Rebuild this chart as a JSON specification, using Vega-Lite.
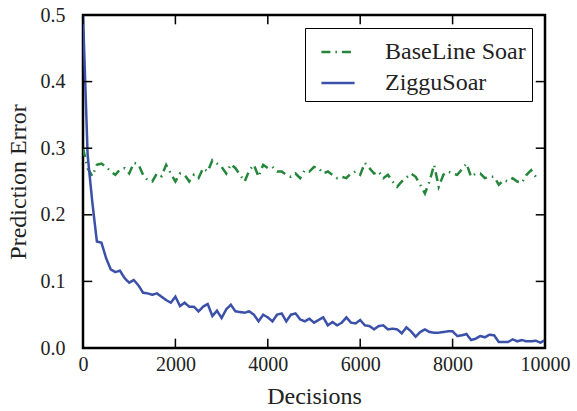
{
  "$schema": "https://vega.github.io/schema/vega-lite/v6.json",
  "autosize": "none",
  "width": 462,
  "height": 333,
  "padding": {"left": 83, "top": 15, "right": 32, "bottom": 63},
  "background": "white",
  "config": {
    "font": "Liberation Serif",
    "view": {"stroke": "black", "strokeWidth": 2.5},
    "axis": {"grid": false, "domain": false, "labelFlush": false, "titleFontWeight": "normal"},
    "legend": {"strokeColor": "black", "fillColor": "white", "padding": 6, "symbolType": "stroke", "symbolSize": 1100, "symbolStrokeWidth": 2.5, "symbolOffset": 9, "labelOffset": 29, "rowPadding": 1, "labelLimit": 300}
  },
  "datasets": {
    "xticks": [{"v":0},{"v":2000},{"v":4000},{"v":6000},{"v":8000},{"v":10000}],
    "yticks": [{"v":0},{"v":0.1},{"v":0.2},{"v":0.3},{"v":0.4},{"v":0.5}],
    "blue": [
      {"x":0,"y":0.50},{"x":100,"y":0.29},{"x":200,"y":0.22},{"x":300,"y":0.16},{"x":400,"y":0.158},{"x":500,"y":0.135},{"x":600,"y":0.118},{"x":700,"y":0.114},{"x":800,"y":0.116},{"x":900,"y":0.105},
      {"x":1000,"y":0.098},{"x":1100,"y":0.102},{"x":1200,"y":0.094},{"x":1300,"y":0.083},{"x":1400,"y":0.082},{"x":1500,"y":0.08},{"x":1600,"y":0.082},{"x":1700,"y":0.077},{"x":1800,"y":0.072},{"x":1900,"y":0.068},
      {"x":2000,"y":0.077},{"x":2100,"y":0.063},{"x":2200,"y":0.068},{"x":2300,"y":0.062},{"x":2400,"y":0.062},{"x":2500,"y":0.055},{"x":2600,"y":0.062},{"x":2700,"y":0.066},{"x":2800,"y":0.048},{"x":2900,"y":0.056},
      {"x":3000,"y":0.045},{"x":3100,"y":0.058},{"x":3200,"y":0.065},{"x":3300,"y":0.055},{"x":3400,"y":0.054},{"x":3500,"y":0.053},{"x":3600,"y":0.055},{"x":3700,"y":0.05},{"x":3800,"y":0.04},{"x":3900,"y":0.05},
      {"x":4000,"y":0.046},{"x":4100,"y":0.04},{"x":4200,"y":0.05},{"x":4300,"y":0.052},{"x":4400,"y":0.04},{"x":4500,"y":0.05},{"x":4600,"y":0.052},{"x":4700,"y":0.043},{"x":4800,"y":0.04},{"x":4900,"y":0.044},
      {"x":5000,"y":0.038},{"x":5100,"y":0.042},{"x":5200,"y":0.046},{"x":5300,"y":0.034},{"x":5400,"y":0.039},{"x":5500,"y":0.034},{"x":5600,"y":0.038},{"x":5700,"y":0.046},{"x":5800,"y":0.038},{"x":5900,"y":0.037},
      {"x":6000,"y":0.042},{"x":6100,"y":0.034},{"x":6200,"y":0.033},{"x":6300,"y":0.028},{"x":6400,"y":0.033},{"x":6500,"y":0.034},{"x":6600,"y":0.028},{"x":6700,"y":0.029},{"x":6800,"y":0.028},{"x":6900,"y":0.022},
      {"x":7000,"y":0.031},{"x":7100,"y":0.025},{"x":7200,"y":0.017},{"x":7300,"y":0.024},{"x":7400,"y":0.028},{"x":7500,"y":0.024},{"x":7600,"y":0.023},{"x":7700,"y":0.023},{"x":7800,"y":0.024},{"x":7900,"y":0.025},
      {"x":8000,"y":0.025},{"x":8100,"y":0.018},{"x":8200,"y":0.019},{"x":8300,"y":0.021},{"x":8400,"y":0.012},{"x":8500,"y":0.014},{"x":8600,"y":0.018},{"x":8700,"y":0.016},{"x":8800,"y":0.02},{"x":8900,"y":0.019},
      {"x":9000,"y":0.009},{"x":9100,"y":0.009},{"x":9200,"y":0.009},{"x":9300,"y":0.013},{"x":9400,"y":0.01},{"x":9500,"y":0.012},{"x":9600,"y":0.01},{"x":9700,"y":0.01},{"x":9800,"y":0.011},{"x":9900,"y":0.008},{"x":10000,"y":0.012}
    ],
    "green": [
      {"x":0,"y":0.30},{"x":100,"y":0.27},{"x":200,"y":0.258},{"x":300,"y":0.275},{"x":400,"y":0.277},{"x":500,"y":0.272},{"x":600,"y":0.265},{"x":700,"y":0.26},{"x":800,"y":0.268},{"x":900,"y":0.27},
      {"x":1000,"y":0.262},{"x":1100,"y":0.278},{"x":1200,"y":0.276},{"x":1300,"y":0.26},{"x":1400,"y":0.252},{"x":1500,"y":0.25},{"x":1600,"y":0.262},{"x":1700,"y":0.258},{"x":1800,"y":0.275},{"x":1900,"y":0.262},
      {"x":2000,"y":0.25},{"x":2100,"y":0.262},{"x":2200,"y":0.26},{"x":2300,"y":0.25},{"x":2400,"y":0.26},{"x":2500,"y":0.255},{"x":2600,"y":0.27},{"x":2700,"y":0.265},{"x":2800,"y":0.282},{"x":2900,"y":0.277},
      {"x":3000,"y":0.272},{"x":3100,"y":0.262},{"x":3200,"y":0.276},{"x":3300,"y":0.27},{"x":3400,"y":0.26},{"x":3500,"y":0.25},{"x":3600,"y":0.267},{"x":3700,"y":0.275},{"x":3800,"y":0.257},{"x":3900,"y":0.275},
      {"x":4000,"y":0.27},{"x":4100,"y":0.272},{"x":4200,"y":0.265},{"x":4300,"y":0.265},{"x":4400,"y":0.26},{"x":4500,"y":0.257},{"x":4600,"y":0.262},{"x":4700,"y":0.255},{"x":4800,"y":0.267},{"x":4900,"y":0.265},
      {"x":5000,"y":0.272},{"x":5100,"y":0.27},{"x":5200,"y":0.262},{"x":5300,"y":0.265},{"x":5400,"y":0.26},{"x":5500,"y":0.255},{"x":5600,"y":0.257},{"x":5700,"y":0.255},{"x":5800,"y":0.262},{"x":5900,"y":0.265},
      {"x":6000,"y":0.26},{"x":6100,"y":0.278},{"x":6200,"y":0.27},{"x":6300,"y":0.262},{"x":6400,"y":0.265},{"x":6500,"y":0.255},{"x":6600,"y":0.26},{"x":6700,"y":0.25},{"x":6800,"y":0.242},{"x":6900,"y":0.25},
      {"x":7000,"y":0.256},{"x":7100,"y":0.262},{"x":7200,"y":0.257},{"x":7300,"y":0.245},{"x":7400,"y":0.232},{"x":7500,"y":0.25},{"x":7600,"y":0.275},{"x":7700,"y":0.242},{"x":7800,"y":0.26},{"x":7900,"y":0.265},
      {"x":8000,"y":0.262},{"x":8100,"y":0.26},{"x":8200,"y":0.268},{"x":8300,"y":0.277},{"x":8400,"y":0.257},{"x":8500,"y":0.262},{"x":8600,"y":0.262},{"x":8700,"y":0.255},{"x":8800,"y":0.257},{"x":8900,"y":0.257},
      {"x":9000,"y":0.245},{"x":9100,"y":0.252},{"x":9200,"y":0.25},{"x":9300,"y":0.255},{"x":9400,"y":0.25},{"x":9500,"y":0.248},{"x":9600,"y":0.26},{"x":9700,"y":0.267},{"x":9800,"y":0.257},{"x":9900,"y":0.255}
    ]
  },
  "layer": [
    {
      "data": {"name": "green"},
      "transform": [{"calculate": "'BaseLine Soar'", "as": "series"}],
      "mark": {"type": "line", "strokeWidth": 2.5, "clip": true},
      "encoding": {
        "x": {"field": "x", "type": "quantitative", "scale": {"domain": [0, 10000], "nice": false, "zero": false}, "axis": {"orient": "bottom", "title": "Decisions", "values": [0,2000,4000,6000,8000,10000], "format": "d", "ticks": false, "labelPadding": 6, "titlePadding": 10, "labelFont": "Liberation Serif", "labelFontSize": 20, "labelColor": "#222", "titleFont": "Liberation Serif", "titleFontSize": 24, "titleColor": "#222", "titleFontWeight": "normal"}},
        "y": {"field": "y", "type": "quantitative", "scale": {"domain": [0, 0.5], "nice": false, "zero": false}, "axis": {"orient": "left", "title": "Prediction Error", "values": [0,0.1,0.2,0.3,0.4,0.5], "format": ".1f", "ticks": false, "labelPadding": 18, "titlePadding": 10, "labelFont": "Liberation Serif", "labelFontSize": 20, "labelColor": "#222", "titleFont": "Liberation Serif", "titleFontSize": 24, "titleColor": "#222", "titleFontWeight": "normal"}},
        "color": {"field": "series", "type": "nominal", "scale": {"domain": ["BaseLine Soar", "ZigguSoar"], "range": ["#24863a", "#3b50a8"]}, "legend": {"title": null, "orient": "none", "legendX": 222, "legendY": 13, "labelFont": "Liberation Serif", "labelFontSize": 24, "labelColor": "#222"}},
        "strokeDash": {"field": "series", "type": "nominal", "scale": {"domain": ["BaseLine Soar", "ZigguSoar"], "range": [[9, 5, 1.5, 5], [1, 0]]}, "legend": null}
      }
    },
    {
      "data": {"name": "blue"},
      "transform": [{"calculate": "'ZigguSoar'", "as": "series"}],
      "mark": {"type": "line", "strokeWidth": 2.5, "clip": true},
      "encoding": {
        "x": {"field": "x", "type": "quantitative", "axis": null},
        "y": {"field": "y", "type": "quantitative", "axis": null},
        "color": {"field": "series", "type": "nominal"},
        "strokeDash": {"field": "series", "type": "nominal"}
      }
    },
    {
      "data": {"name": "xticks"},
      "mark": {"type": "rule", "color": "black", "strokeWidth": 1.5},
      "encoding": {
        "x": {"field": "v", "type": "quantitative", "axis": null},
        "y": {"datum": 0, "type": "quantitative", "axis": null},
        "y2": {"datum": 0.014}
      }
    },
    {
      "data": {"name": "xticks"},
      "mark": {"type": "rule", "color": "black", "strokeWidth": 1.5},
      "encoding": {
        "x": {"field": "v", "type": "quantitative", "axis": null},
        "y": {"datum": 0.486, "type": "quantitative", "axis": null},
        "y2": {"datum": 0.5}
      }
    },
    {
      "data": {"name": "yticks"},
      "mark": {"type": "rule", "color": "black", "strokeWidth": 1.5},
      "encoding": {
        "y": {"field": "v", "type": "quantitative", "axis": null},
        "x": {"datum": 0, "type": "quantitative", "axis": null},
        "x2": {"datum": 200}
      }
    },
    {
      "data": {"name": "yticks"},
      "mark": {"type": "rule", "color": "black", "strokeWidth": 1.5},
      "encoding": {
        "y": {"field": "v", "type": "quantitative", "axis": null},
        "x": {"datum": 9800, "type": "quantitative", "axis": null},
        "x2": {"datum": 10000}
      }
    }
  ],
  "resolve": {"axis": {"x": "independent", "y": "independent"}}
}
